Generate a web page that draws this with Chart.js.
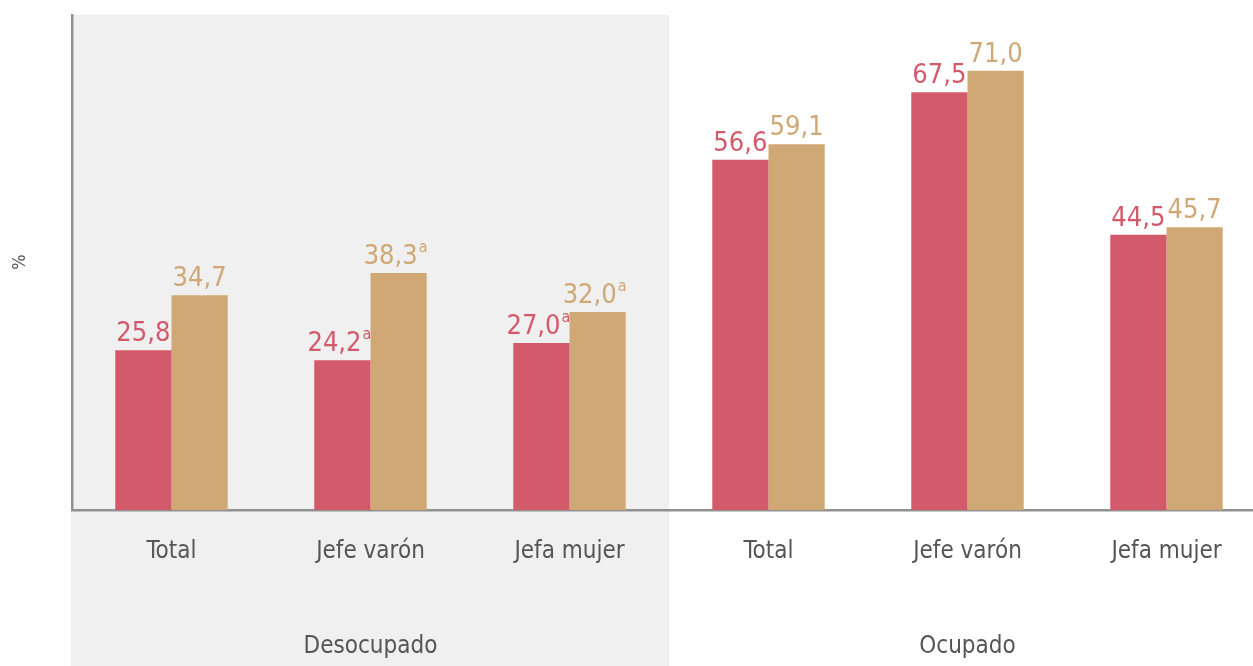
<!DOCTYPE html>
<html>
<head>
<meta charset="utf-8">
<script src="https://cdn.jsdelivr.net/npm/chart.js@4"></script>
<style>
  html, body { margin: 0; padding: 0; background: #fff; overflow: hidden; }
  #wrap { width: 1266px; height: 666px; position: relative; }
</style>
</head>
<body>
<div id="wrap"><canvas id="grafico"></canvas></div>
<script>
// datos
const categorias = ['Total', 'Jefe varón', 'Jefa mujer', 'Total', 'Jefe varón', 'Jefa mujer'];
const grupos = ['Desocupado', 'Ocupado'];
const serie1 = [25.8, 24.2, 27.0, 56.6, 67.5, 44.5];
const serie2 = [34.7, 38.3, 32.0, 59.1, 71.0, 45.7];
const notas1 = ['', 'a', 'a', '', '', ''];
const notas2 = ['', 'a', 'a', '', '', ''];

const ROJO = '#d35a6b';
const ARENA = '#d0a875';
const FUENTE = "'Liberation Sans Narrow', 'DejaVu Sans Condensed', sans-serif";

function fmt(v) {
    return v.toFixed(1).replace('.', ',');
}

// fondo gris del primer grupo y textos extra
const decoraciones = {
    id: 'decoraciones',
    beforeDraw(chart) {
        const { ctx, chartArea, scales } = chart;
        const x = scales.x;
        const paso = x.getPixelForValue(1) - x.getPixelForValue(0);
        const fin = x.getPixelForValue(2) + paso / 2;
        ctx.save();
        ctx.fillStyle = '#f0f0f0';
        ctx.fillRect(chartArea.left - 1, chartArea.top, fin - chartArea.left + 1, chart.height - chartArea.top);
        ctx.restore();
    },
    afterDraw(chart) {
        const { ctx, scales } = chart;
        const x = scales.x;
        ctx.save();
        // titulo del eje
        ctx.fillStyle = '#555';
        ctx.font = '18px ' + FUENTE;
        ctx.translate(20, 262);
        ctx.rotate(-Math.PI / 2);
        ctx.textAlign = 'center';
        ctx.textBaseline = 'middle';
        ctx.fillText('%', 0, 0);
        ctx.restore();

        ctx.save();
        ctx.fillStyle = '#555';
        ctx.font = '24px ' + FUENTE;
        ctx.textAlign = 'center';
        ctx.textBaseline = 'middle';
        grupos.forEach((g, i) => {
            const c = (x.getPixelForValue(i * 3) + x.getPixelForValue(i * 3 + 2)) / 2;
            ctx.fillText(g, c, 647);
        });
        ctx.restore();

        // etiquetas de valor
        const notas = [notas1, notas2];
        chart.data.datasets.forEach((ds, di) => {
            const meta = chart.getDatasetMeta(di);
            meta.data.forEach((bar, i) => {
                const txt = fmt(ds.data[i]);
                const sup = notas[di][i];
                ctx.save();
                ctx.fillStyle = ds.backgroundColor;
                ctx.font = '27px ' + FUENTE;
                const w1 = ctx.measureText(txt).width;
                ctx.font = '16px ' + FUENTE;
                const w2 = sup ? ctx.measureText(sup).width + 1 : 0;
                const x0 = bar.x - (w1 + w2) / 2 - (sup ? 3 : 0);
                const base = bar.y - 9;
                ctx.textBaseline = 'alphabetic';
                ctx.textAlign = 'left';
                ctx.font = '27px ' + FUENTE;
                ctx.fillText(txt, x0, base);
                if (sup) {
                    ctx.font = '16px ' + FUENTE;
                    ctx.fillText(sup, x0 + w1 + 1, base - 12);
                }
                ctx.restore();
            });
        });
    }
};

new Chart(document.getElementById('grafico').getContext('2d'), {
    type: 'bar',
    data: {
        labels: categorias,
        datasets: [{
            label: 'Serie 1',
            data: serie1,
            backgroundColor: ROJO,
            barPercentage: 1,
            categoryPercentage: 0.565
        }, {
            label: 'Serie 2',
            data: serie2,
            backgroundColor: ARENA,
            barPercentage: 1,
            categoryPercentage: 0.565
        }]
    },
    options: {
        responsive: true,
        maintainAspectRatio: false,
        animation: false,
        layout: { padding: { top: 15, left: 0, right: 0, bottom: 0 } },
        plugins: {
            legend: { display: false },
            tooltip: { enabled: false }
        },
        scales: {
            x: {
                grid: { display: false, drawTicks: false },
                border: { display: true, color: '#919191', width: 2.5 },
                ticks: {
                    color: '#555',
                    padding: 27,
                    font: { family: FUENTE, size: 24 },
                    maxRotation: 0,
                    autoSkip: false
                },
                afterFit(scale) { scale.height = 156; }
            },
            y: {
                min: 0,
                max: 80,
                grid: { display: false, drawTicks: false },
                border: { display: true, color: '#919191', width: 2.5 },
                ticks: { display: false },
                afterFit(scale) { scale.width = 72; }
            }
        }
    },
    plugins: [decoraciones]
});
</script>
</body>
</html>
